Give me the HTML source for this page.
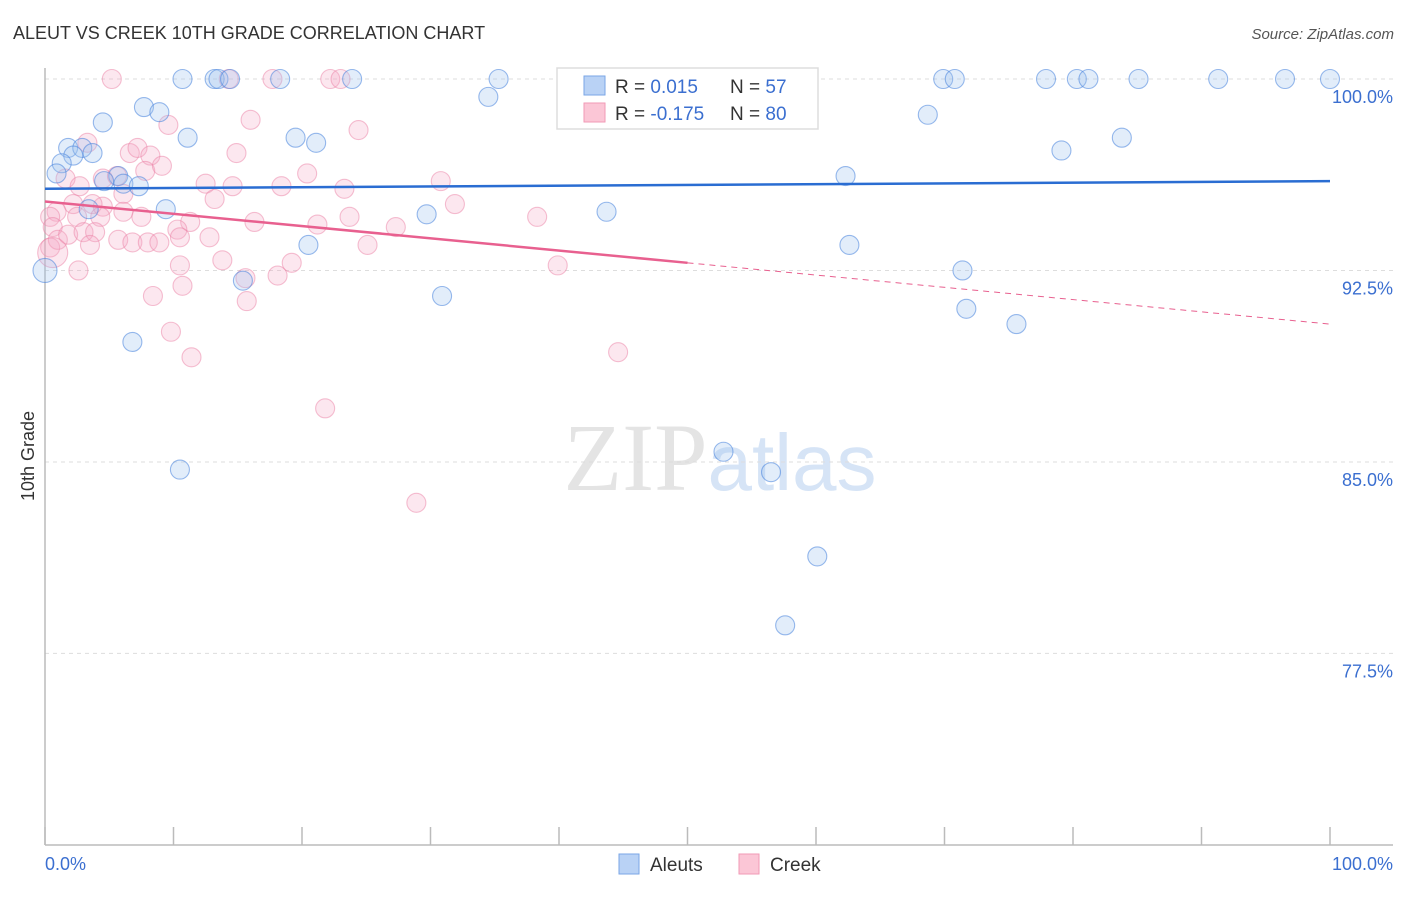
<!DOCTYPE html>
<html><head><meta charset="utf-8"><style>
body{margin:0;background:#fff;font-family:"Liberation Sans",sans-serif}
</style></head><body>
<svg id="chart" width="1406" height="892" xmlns="http://www.w3.org/2000/svg" style="font-family:'Liberation Sans',sans-serif">
<text x="13" y="39" font-size="18" fill="#333">ALEUT VS CREEK 10TH GRADE CORRELATION CHART</text>
<text x="1394" y="39" font-size="15" fill="#555" font-style="italic" text-anchor="end">Source: ZipAtlas.com</text>
<text transform="translate(34,456) rotate(-90)" font-size="18" fill="#333" text-anchor="middle">10th Grade</text>
<text x="720" y="490" font-size="96" text-anchor="middle" fill="#e4e4e4"><tspan font-family="Liberation Serif">ZIP</tspan><tspan fill="#d6e4f6" font-size="80">atlas</tspan></text>
<g id="grid"></g><g id="axes"></g><g id="pts"></g><g id="trend"></g>
<g>
<rect x="557" y="68" width="261" height="61" fill="#fff" stroke="#ddd" stroke-width="1.5"/>
<rect x="584" y="76" width="21" height="19" fill="#b9d2f5" stroke="#7aa6e6"/>
<rect x="584" y="103" width="21" height="19" fill="#fbc6d6" stroke="#f29ab6"/>
<text x="615" y="93" font-size="19" fill="#333">R = <tspan fill="#3b6fd0"> 0.015</tspan></text>
<text x="730" y="93" font-size="19" fill="#333">N = <tspan fill="#3b6fd0"> 57</tspan></text>
<text x="615" y="120" font-size="19" fill="#333">R = <tspan fill="#3b6fd0">-0.175</tspan></text>
<text x="730" y="120" font-size="19" fill="#333">N = <tspan fill="#3b6fd0">80</tspan></text>
</g>
<g>
<rect x="619" y="854" width="20" height="20" fill="#b9d2f5" stroke="#7aa6e6"/>
<text x="650" y="871" font-size="19" fill="#333">Aleuts</text>
<rect x="739" y="854" width="20" height="20" fill="#fbc6d6" stroke="#f29ab6"/>
<text x="770" y="871" font-size="19" fill="#333">Creek</text>
</g>
</svg>
<script>
const yTicks=[100,92.5,85,77.5];
const yTickLabels=["100.0%","92.5%","85.0%","77.5%"];
const xTickLabels=["0.0%","100.0%"];
const aleutX=[10.7,13.2,13.5,14.4,18.3,23.9,35.3,47.1,55.6,69.9,70.8,77.9,80.3,81.2,85.1,91.3,96.5,100,7.7,8.9,4.5,34.5,68.7,11.1,19.5,21.1,83.8,1.8,2.9,3.7,2.2,1.3,79.1,0.9,5.7,4.6,6.1,7.3,62.3,9.4,3.4,29.7,43.7,20.5,62.6,0,71.4,15.4,30.9,71.7,75.6,6.8,10.5,52.8,56.5,60.1,57.6];
const aleutY=[100,100,100,100,100,100,100,100,100,100,100,100,100,100,100,100,100,100,98.9,98.7,98.3,99.3,98.6,97.7,97.7,97.5,97.7,97.3,97.3,97.1,97.0,96.7,97.2,96.3,96.2,96.0,95.9,95.8,96.2,94.9,94.9,94.7,94.8,93.5,93.5,92.5,92.5,92.1,91.5,91.0,90.4,89.7,84.7,85.4,84.6,81.3,78.6];
const creekX=[5.2,14.3,17.7,22.2,23.0,9.6,16.0,24.4,14.9,3.3,6.6,7.2,8.2,7.8,9.1,20.4,1.6,2.7,4.5,5.6,12.5,14.6,18.4,23.3,6.1,13.2,2.2,4.5,3.7,0.9,0.4,2.5,4.3,6.1,7.5,16.3,21.2,23.7,11.3,10.3,10.5,12.8,0.6,0.4,1.0,1.8,3.0,3.9,3.5,5.7,6.8,8.0,8.9,25.1,0.6,13.8,10.5,2.6,15.6,18.1,19.2,10.7,8.4,15.7,9.8,11.4,30.8,31.9,38.3,39.9,44.6,21.8,28.9,27.3];
const creekY=[100,100,100,100,100,98.2,98.4,98.0,97.1,97.5,97.1,97.3,97.0,96.4,96.6,96.3,96.1,95.8,96.1,96.2,95.9,95.8,95.8,95.7,95.5,95.3,95.1,95.0,95.1,94.8,94.6,94.6,94.6,94.8,94.6,94.4,94.3,94.6,94.4,94.1,93.8,93.8,94.2,93.4,93.7,93.9,94.0,94.0,93.5,93.7,93.6,93.6,93.6,93.5,93.2,92.9,92.7,92.5,92.2,92.3,92.8,91.9,91.5,91.3,90.1,89.1,96.0,95.1,94.6,92.7,89.3,87.1,83.4,94.2];
const aleutTrend=[95.7,96.0];
const creekTrend=[95.2,90.4];
const NS="http://www.w3.org/2000/svg";
const X=v=>45+v*12.85, Y=v=>79+(100-v)*25.53;
function mk(t,a,p){const e=document.createElementNS(NS,t);for(const k in a)e.setAttribute(k,a[k]);p.appendChild(e);return e;}
const g=document.getElementById('grid'),ax=document.getElementById('axes'),pts=document.getElementById('pts'),tr=document.getElementById('trend');
yTicks.forEach((t,i)=>{
 const l=mk('line',{x1:45,x2:1393,y1:Y(t),y2:Y(t),stroke:'#ddd','stroke-dasharray':'4,4'},g);
 
 
 const tx=mk('text',{x:1393,y:Y(t)+24,'font-size':18,fill:'#3b6fd0','text-anchor':'end'},ax);
 tx.textContent=yTickLabels[i];
 
 
});
let a=mk('line',{x1:45,x2:45,y1:68,y2:845,stroke:'#bbb','stroke-width':1.5},ax);


a=mk('line',{x1:45,x2:1393,y1:845,y2:845,stroke:'#bbb','stroke-width':1.5},ax);


for(let k=0;k<=10;k++){const t=mk('line',{x1:X(k*10),x2:X(k*10),y1:827,y2:845,stroke:'#bbb','stroke-width':1.5},ax);
 
 }
let xl=mk('text',{x:45,y:870,'font-size':18,fill:'#3b6fd0'},ax);xl.textContent=xTickLabels[0];


xl=mk('text',{x:1393,y:870,'font-size':18,fill:'#3b6fd0','text-anchor':'end'},ax);xl.textContent=xTickLabels[1];


creekX.forEach((x,i)=>{const c=mk('circle',{cx:X(x),cy:Y(creekY[i]),r:(i==54?15:9.5),fill:'rgba(246,170,196,0.28)',stroke:'rgba(236,130,166,0.5)','stroke-width':1.1},pts);
 
 });
aleutX.forEach((x,i)=>{const c=mk('circle',{cx:X(x),cy:Y(aleutY[i]),r:(i==45?12:9.5),fill:'rgba(160,196,240,0.3)',stroke:'rgba(70,130,220,0.55)','stroke-width':1.1},pts);
 
 });
let t=mk('line',{x1:X(0),x2:X(100),y1:Y(aleutTrend[0]),y2:Y(aleutTrend[1]),stroke:'#2a6dd2','stroke-width':2.5},tr);


const cm=v=>creekTrend[0]+(creekTrend[1]-creekTrend[0])*v/100;
t=mk('line',{x1:X(0),x2:X(50),y1:Y(cm(0)),y2:Y(cm(50)),stroke:'#e8608f','stroke-width':2.5},tr);


t=mk('line',{x1:X(50),x2:X(100),y1:Y(cm(50)),y2:Y(cm(100)),stroke:'#e8608f','stroke-width':1,'stroke-dasharray':'6,5'},tr);


</script>
</body></html>
